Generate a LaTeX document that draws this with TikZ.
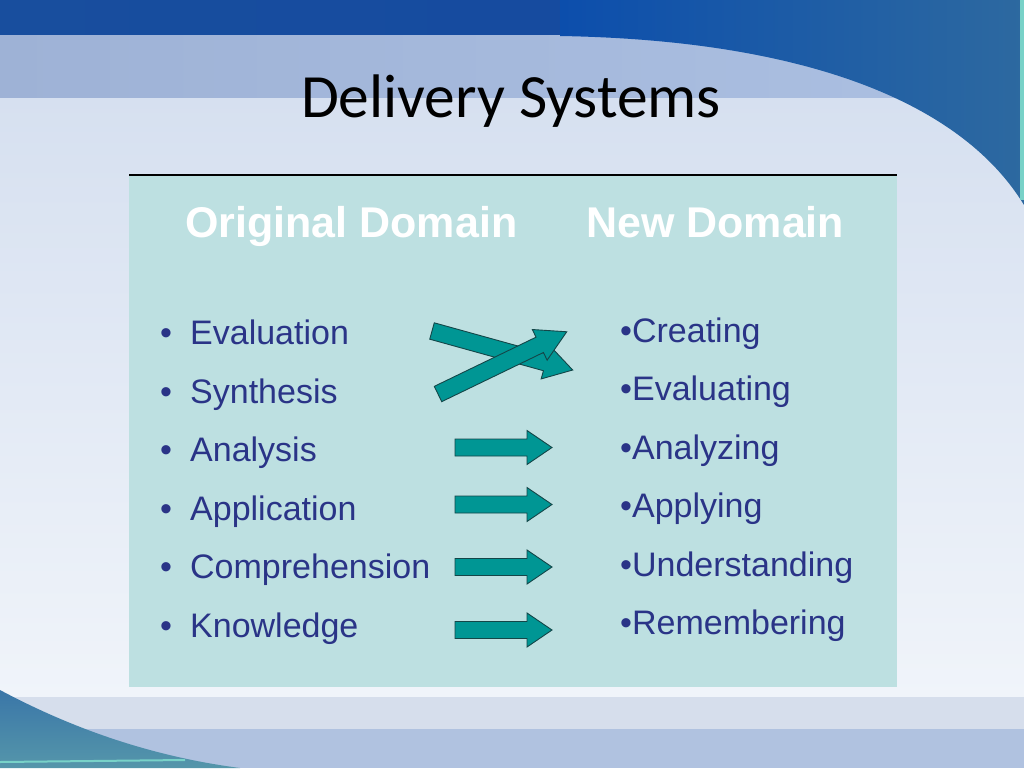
\documentclass[tikz,border=0pt]{standalone}
\usepackage{fontspec}
\setmainfont{Liberation Sans}
\newfontfamily\titlefont{Carlito}
\definecolor{panelc}{RGB}{189,224,225}
\definecolor{itemc}{RGB}{42,52,135}
\definecolor{arrfill}{RGB}{0,150,148}
\definecolor{arrline}{RGB}{20,70,72}
\definecolor{bgtop}{RGB}{214,224,240}
\definecolor{bgbot}{RGB}{240,244,250}
\definecolor{darkband}{RGB}{24,78,158}
\definecolor{darkband2}{RGB}{20,72,160}
\definecolor{lightbandl}{RGB}{158,178,214}
\definecolor{lightbandr}{RGB}{172,192,226}
\definecolor{swooshA}{RGB}{12,78,172}
\definecolor{swooshB}{RGB}{45,105,160}
\definecolor{botband1}{RGB}{214,222,236}
\definecolor{botband2}{RGB}{176,194,224}
\definecolor{blswA}{RGB}{58,118,168}
\definecolor{blswB}{RGB}{85,150,170}
\definecolor{tealline}{RGB}{120,210,200}
\tikzset{
  arrowstyle/.style={fill=arrfill, draw=arrline, line width=0.9pt, line join=miter},
  leftitem/.style={anchor=base west, inner sep=0pt, text=itemc,
    font=\fontsize{34}{40}\selectfont},
  rightitem/.style={anchor=base west, inner sep=0pt, text=itemc,
    font=\fontsize{34}{40}\selectfont},
  header/.style={anchor=base west, inner sep=0pt, text=white,
    font=\bfseries\fontsize{43}{50}\selectfont},
}
% #1,#2 tail centre, #3 angle, #4 shaft length, #5 head length
\newcommand{\blockarrow}[5]{%
  \begin{scope}[shift={(#1,#2)},rotate=#3]
    \draw[arrowstyle] (0,-8.5) -- (#4,-8.5) -- (#4,-17) -- ({#4+#5},0)
      -- (#4,17) -- (#4,8.5) -- (0,8.5) -- cycle;
  \end{scope}}
\newcommand{\bul}[1]{\makebox[32pt][l]{\hspace{2pt}•}#1}
\begin{document}
\begin{tikzpicture}[x=1pt,y=-1pt]
\useasboundingbox (0,0) rectangle (1024,768);
% background
\shade[top color=bgtop, bottom color=bgbot] (0,97) rectangle (1024,698);
\shade[left color=darkband, right color=darkband2] (0,0) rectangle (1024,36);
\shade[left color=lightbandl, right color=lightbandr] (0,36) rectangle (1024,97);
\shade[left color=swooshA, right color=swooshB]
  (560,36) .. controls (800,40) and (960,100) .. (1024,205) -- (1024,0) -- (560,0) -- cycle;
\fill[tealline] (1020,0) rectangle (1024,200);
\fill[botband1] (0,697) rectangle (1024,729);
\fill[botband2] (0,729) rectangle (1024,768);
\shade[top color=blswA, bottom color=blswB]
  (0,690) .. controls (60,722) and (140,755) .. (240,768) -- (0,768) -- cycle;
\draw[tealline, line width=2pt] (0,762) -- (185,760);
% panel
\fill[panelc] (129,175) rectangle (897,687);
\draw[black, line width=1.2pt] (129,175) -- (897,175);
% title
\node[anchor=base, inner sep=0pt, font=\titlefont\fontsize{61.5}{72}\selectfont] (title) at (511,117) {Delivery Systems};
% headers
\node[header] (hOrig) at (185,237) {Original Domain};
\node[header] (hNew) at (586,237) {New Domain};
% left items
\node[leftitem] (l1) at (158,344.5) {\bul{Evaluation}};
\node[leftitem] (l2) at (158,403) {\bul{Synthesis}};
\node[leftitem] (l3) at (158,461.5) {\bul{Analysis}};
\node[leftitem] (l4) at (158,520) {\bul{Application}};
\node[leftitem] (l5) at (158,578.5) {\bul{Comprehension}};
\node[leftitem] (l6) at (158,637) {\bul{Knowledge}};
% right items
\node[rightitem] (r1) at (620,342) {•Creating};
\node[rightitem] (r2) at (620,400.5) {•Evaluating};
\node[rightitem] (r3) at (620,459) {•Analyzing};
\node[rightitem] (r4) at (620,517.5) {•Applying};
\node[rightitem] (r5) at (620,576) {•Understanding};
\node[rightitem] (r6) at (620,634.5) {•Remembering};
% arrows
\blockarrow{432}{331}{-15.5}{118}{28}
\blockarrow{438}{394}{25.8}{113}{30}
\blockarrow{455}{447.5}{0}{72}{25}
\blockarrow{455}{504.5}{0}{72}{25}
\blockarrow{455}{567}{0}{72}{25}
\blockarrow{455}{630}{0}{72}{25}
\end{tikzpicture}
\end{document}
